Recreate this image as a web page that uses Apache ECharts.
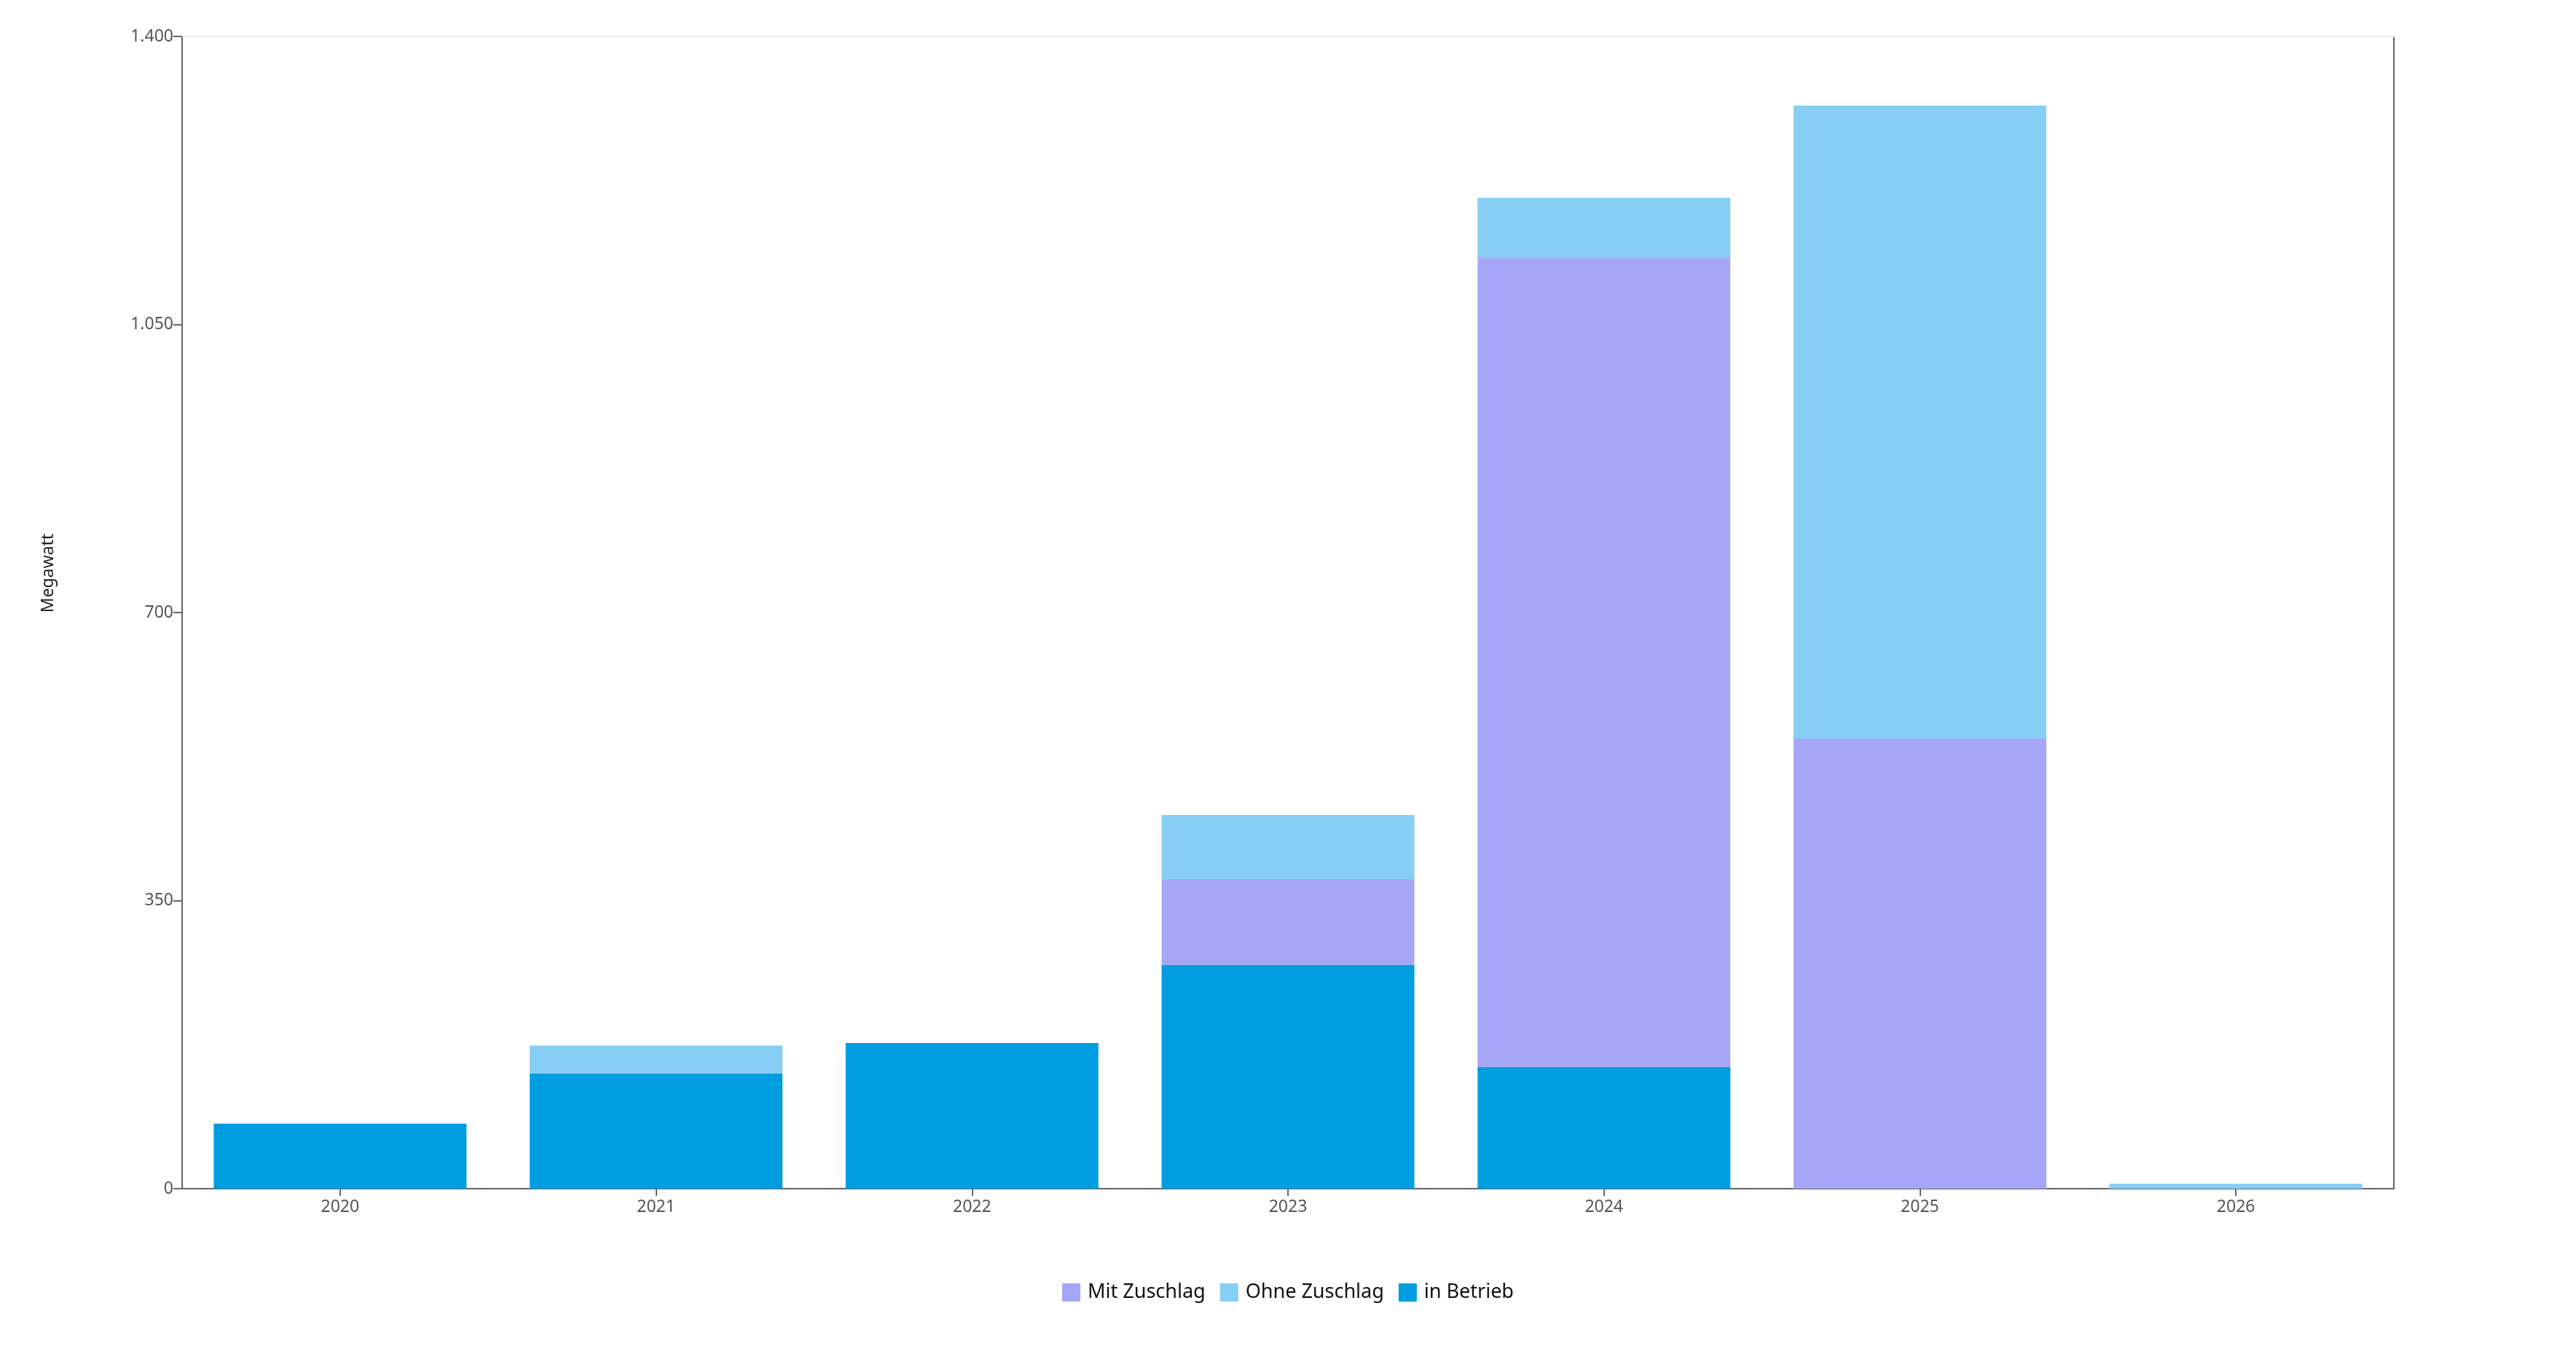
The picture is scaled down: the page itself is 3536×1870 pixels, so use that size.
<!DOCTYPE html>
<html>
<head>
<meta charset="utf-8">
<script src="https://cdn.jsdelivr.net/npm/echarts@6/dist/echarts.min.js"></script>
<style>
html,body{margin:0;padding:0;background:#fff;}
#chart{width:3536px;height:1870px;}
</style>
</head>
<body>
<div id="chart"></div>
<script>
const categories = ['2020', '2021', '2022', '2023', '2024', '2025', '2026'];
const inBetrieb = [79, 140, 177, 272, 148, null, null];
const mitZuschlag = [null, null, null, 104, 983, 547, null];
const ohneZuschlag = [null, 34, null, 78, 73, 769, 6];
const yTicks = [0, 350, 700, 1050, 1400];

const FONT = 'Noto Sans';
function fmt(v) {
  return String(v).replace(/\B(?=(\d{3})+(?!\d))/g, '.');
}

const chart = echarts.init(document.getElementById('chart'), null, { renderer: 'canvas' });
chart.setOption({
  animation: false,
  backgroundColor: '#ffffff',
  textStyle: { fontFamily: FONT },
  grid: { left: 250, right: 250, top: 50, bottom: 238, containLabel: false },
  legend: {
    data: ['Mit Zuschlag', 'Ohne Zuschlag', 'in Betrieb'],
    left: 'center',
    top: 1756,
    itemWidth: 25,
    itemHeight: 25,
    itemGap: 20,
    icon: 'rect',
    textStyle: { fontFamily: FONT, fontSize: 27, color: '#111', padding: [0, 0, 0, 5] }
  },
  xAxis: [{
    type: 'category',
    position: 'bottom',
    data: categories,
    axisLine: { show: true, onZero: false, lineStyle: { color: '#666', width: 2 } },
    axisTick: { show: true, alignWithLabel: true, length: 10, lineStyle: { color: '#666', width: 2 } },
    axisLabel: { fontFamily: FONT, fontSize: 23, color: '#555', margin: 14 },
    splitLine: { show: false }
  }, {
    type: 'category',
    position: 'top',
    data: categories,
    axisLine: { show: true, onZero: false, lineStyle: { color: '#eeeeee', width: 2 } },
    axisTick: { show: false },
    axisLabel: { show: false },
    splitLine: { show: false }
  }],
  yAxis: [{
    type: 'value',
    min: 0,
    max: yTicks[yTicks.length - 1],
    interval: yTicks[1] - yTicks[0],
    name: 'Megawatt',
    nameLocation: 'middle',
    nameRotate: 90,
    nameGap: 172,
    nameTextStyle: { fontFamily: FONT, fontSize: 23, color: '#222', padding: [0, 0, 0, 108] },
    axisLine: { show: true, onZero: false, lineStyle: { color: '#666', width: 2 } },
    axisTick: { show: true, length: 12, lineStyle: { color: '#666', width: 2 } },
    axisLabel: { fontFamily: FONT, fontSize: 23, color: '#555', margin: 12, formatter: fmt },
    splitLine: { show: false }
  }, {
    type: 'value',
    position: 'right',
    min: 0,
    max: yTicks[yTicks.length - 1],
    interval: yTicks[1] - yTicks[0],
    axisLine: { show: true, onZero: false, lineStyle: { color: '#666', width: 2 } },
    axisTick: { show: false },
    axisLabel: { show: false },
    splitLine: { show: false }
  }],
  series: [{
    name: 'in Betrieb',
    type: 'bar',
    stack: 'total',
    data: inBetrieb,
    barCategoryGap: '20%',
    itemStyle: { color: '#009EE0' }
  }, {
    name: 'Mit Zuschlag',
    type: 'bar',
    stack: 'total',
    data: mitZuschlag,
    barCategoryGap: '20%',
    itemStyle: { color: '#A6A6F7' }
  }, {
    name: 'Ohne Zuschlag',
    type: 'bar',
    stack: 'total',
    data: ohneZuschlag,
    barCategoryGap: '20%',
    itemStyle: { color: '#87CEF5' }
  }]
});
</script>
</body>
</html>
